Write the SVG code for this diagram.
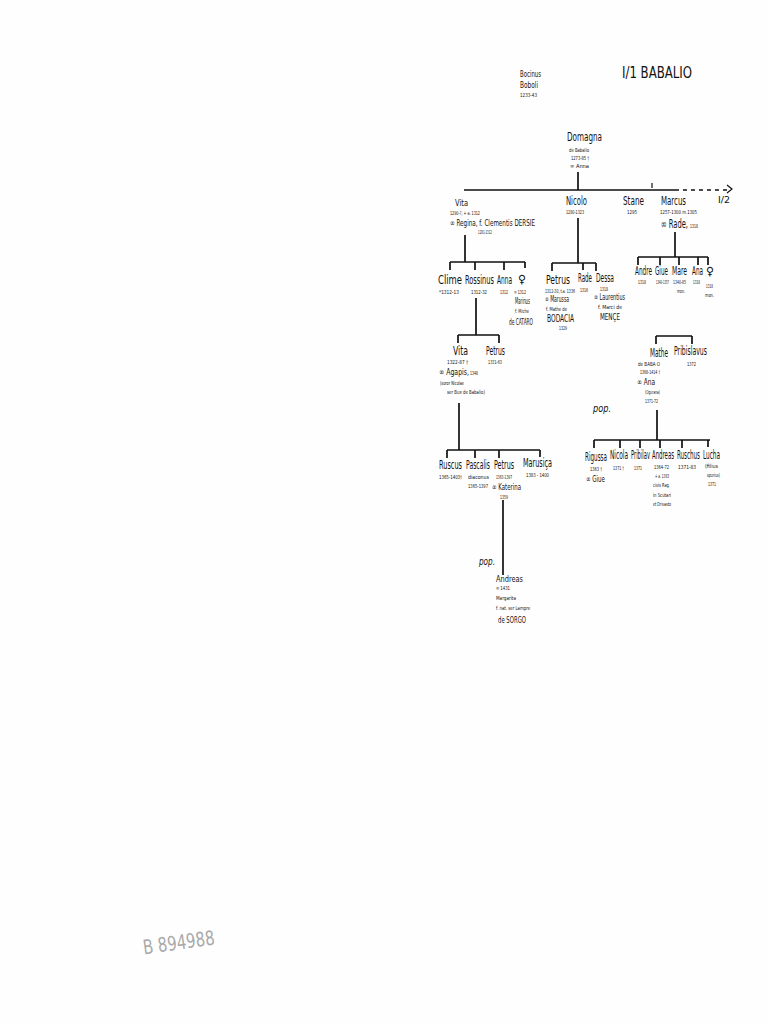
<svg xmlns="http://www.w3.org/2000/svg" width="768" height="1024" viewBox="0 0 768 1024">
<style>
text{font-family:"DejaVu Sans Condensed","Liberation Sans",sans-serif;fill:#111}
.n{font-size:11.5px}
.d{font-size:5.5px}
.s{font-size:9px}
.b{font-size:10px}
.t{font-size:16px}
.p{font-size:10px;font-style:italic}
.ln{stroke:#111;stroke-width:1.7;fill:none}
.tk{stroke:#111;stroke-width:1.2;fill:none}
</style>
<rect width="768" height="1024" fill="#fefefe"/>
<g id="connectors">
<path class="ln" d="M578 172V190M464 190H675"/>
<path class="ln" d="M675 190H728" stroke-dasharray="4 4"/>
<path class="tk" d="M727 185L732 189L727 193M652 183V188"/>
<path class="ln" d="M465 235V262M450 262H525M450 262V270M475 262V270M504 262V270M525 262V268"/>
<path class="ln" d="M578 218V263M552 263H596M552 263V271M583 263V270M596 263V271"/>
<path class="ln" d="M675 232V257M638 257H708M638 257V265M660 257V265M679 257V265M698 257V265M708 257V265"/>
<path class="ln" d="M476 298V335M458 335H499M458 335V343M499 335V343"/>
<path class="ln" d="M459 403V450M447 450H540M447 450V458M475 450V458M499 450V458M540 450V457"/>
<path class="ln" d="M503 500V575"/>
<path class="ln" d="M656 336H692M656 336V344M692 336V344"/>
<path class="ln" d="M657 410V440M594 440H710M594 440V448M620 440V448M640 440V448M660 440V448M682 440V448M708 440V447"/>
</g>
<g id="title"><text class="t" x="622" y="78" textLength="70" lengthAdjust="spacingAndGlyphs">I/1 BABALIO</text></g>
<g id="bocinus"><text class="s" x="520" y="77" textLength="21" lengthAdjust="spacingAndGlyphs">Bocinus</text><text class="s" x="520" y="88" textLength="18" lengthAdjust="spacingAndGlyphs">Boboli</text><text class="d" x="520" y="97" textLength="17" lengthAdjust="spacingAndGlyphs">1233-43</text></g>
<g id="domagna"><text class="n" x="567" y="141" textLength="35" lengthAdjust="spacingAndGlyphs">Domagna</text><text class="d" x="569" y="152" textLength="20" lengthAdjust="spacingAndGlyphs">de Babalio</text><text class="d" x="571" y="160" textLength="18" lengthAdjust="spacingAndGlyphs">1273-85 †</text><text class="d" x="570" y="168" textLength="19" lengthAdjust="spacingAndGlyphs">∞ Anna</text></g>
<g id="i2"><text class="s" x="718" y="203" textLength="12" lengthAdjust="spacingAndGlyphs">I/2</text></g>
<g id="vita1"><text class="s" x="455" y="206" textLength="13" lengthAdjust="spacingAndGlyphs">Vita</text><text class="d" x="450" y="215" textLength="30" lengthAdjust="spacingAndGlyphs">1290-?, + a. 1312</text><text class="s" x="450" y="226" textLength="85" lengthAdjust="spacingAndGlyphs">∞ Regina, f. Clementis DERSIE</text><text class="d" x="478" y="234" textLength="14" lengthAdjust="spacingAndGlyphs">1281-1312</text></g>
<g id="nicolo"><text class="n" x="566" y="205" textLength="21" lengthAdjust="spacingAndGlyphs">Nicolo</text><text class="d" x="566" y="214" textLength="18" lengthAdjust="spacingAndGlyphs">1280-1323</text></g>
<g id="stane"><text class="n" x="623" y="205" textLength="21" lengthAdjust="spacingAndGlyphs">Stane</text><text class="d" x="627" y="214" textLength="10" lengthAdjust="spacingAndGlyphs">1295</text></g>
<g id="marcus"><text class="n" x="661" y="205" textLength="25" lengthAdjust="spacingAndGlyphs">Marcus</text><text class="d" x="660" y="214" textLength="37" lengthAdjust="spacingAndGlyphs">1257-1300 m.1305</text><text class="n" x="661" y="228" textLength="27" lengthAdjust="spacingAndGlyphs">∞ Rade,</text><text class="d" x="690" y="228" textLength="8" lengthAdjust="spacingAndGlyphs">1318</text></g>
<g id="clime"><text class="n" x="438" y="284" textLength="24" lengthAdjust="spacingAndGlyphs">Clime</text><text class="d" x="439" y="294" textLength="20" lengthAdjust="spacingAndGlyphs">*1312-13</text></g>
<g id="rossinus"><text class="n" x="465" y="284" textLength="29" lengthAdjust="spacingAndGlyphs">Rossinus</text><text class="d" x="471" y="294" textLength="16" lengthAdjust="spacingAndGlyphs">1312-32</text></g>
<g id="anna"><text class="n" x="497" y="284" textLength="15" lengthAdjust="spacingAndGlyphs">Anna</text><text class="d" x="500" y="294" textLength="8" lengthAdjust="spacingAndGlyphs">1312</text></g>
<g id="f1"><text class="n" x="518" y="283" textLength="8" lengthAdjust="spacingAndGlyphs">♀</text><text class="d" x="514" y="294" textLength="12" lengthAdjust="spacingAndGlyphs">∞ 1312</text><text class="s" x="515" y="304" textLength="15" lengthAdjust="spacingAndGlyphs">Marinus</text><text class="d" x="515" y="313" textLength="14" lengthAdjust="spacingAndGlyphs">f. Miche</text><text class="s" x="509" y="325" textLength="24" lengthAdjust="spacingAndGlyphs">de CATARO</text></g>
<g id="petrus1"><text class="n" x="546" y="284" textLength="24" lengthAdjust="spacingAndGlyphs">Petrus</text><text class="d" x="545" y="293" textLength="30" lengthAdjust="spacingAndGlyphs">1312-30, t.a. 1336</text><text class="s" x="545" y="302" textLength="24" lengthAdjust="spacingAndGlyphs">∞ Marussa</text><text class="d" x="546" y="311" textLength="21" lengthAdjust="spacingAndGlyphs">f. Mathe de</text><text class="b" x="547" y="322" textLength="27" lengthAdjust="spacingAndGlyphs">BODACIA</text><text class="d" x="559" y="330" textLength="8" lengthAdjust="spacingAndGlyphs">1329</text></g>
<g id="rade"><text class="n" x="578" y="282" textLength="14" lengthAdjust="spacingAndGlyphs">Rade</text><text class="d" x="580" y="292" textLength="8" lengthAdjust="spacingAndGlyphs">1316</text></g>
<g id="dessa"><text class="n" x="596" y="282" textLength="18" lengthAdjust="spacingAndGlyphs">Dessa</text><text class="d" x="600" y="291" textLength="8" lengthAdjust="spacingAndGlyphs">1318</text><text class="s" x="594" y="300" textLength="31" lengthAdjust="spacingAndGlyphs">∞ Laurentius</text><text class="d" x="598" y="309" textLength="24" lengthAdjust="spacingAndGlyphs">f. Marci de</text><text class="s" x="600" y="320" textLength="20" lengthAdjust="spacingAndGlyphs">MENÇE</text></g>
<g id="andre"><text class="n" x="635" y="275" textLength="17" lengthAdjust="spacingAndGlyphs">Andre</text><text class="d" x="638" y="284" textLength="8" lengthAdjust="spacingAndGlyphs">1318</text></g>
<g id="giue1"><text class="n" x="655" y="275" textLength="13" lengthAdjust="spacingAndGlyphs">Giue</text><text class="d" x="656" y="284" textLength="13" lengthAdjust="spacingAndGlyphs">1340-1357</text></g>
<g id="mare"><text class="n" x="672" y="275" textLength="15" lengthAdjust="spacingAndGlyphs">Mare</text><text class="d" x="673" y="284" textLength="13" lengthAdjust="spacingAndGlyphs">1340-85</text><text class="d" x="677" y="293" textLength="8" lengthAdjust="spacingAndGlyphs">mon.</text></g>
<g id="ana1"><text class="n" x="692" y="275" textLength="11" lengthAdjust="spacingAndGlyphs">Ana</text><text class="d" x="693" y="284" textLength="7" lengthAdjust="spacingAndGlyphs">1318</text></g>
<g id="f2"><text class="n" x="706" y="275" textLength="8" lengthAdjust="spacingAndGlyphs">♀</text><text class="d" x="706" y="288" textLength="7" lengthAdjust="spacingAndGlyphs">1318</text><text class="d" x="705" y="297" textLength="9" lengthAdjust="spacingAndGlyphs">mon.</text></g>
<g id="vita2"><text class="n" x="453" y="355" textLength="15" lengthAdjust="spacingAndGlyphs">Vita</text><text class="d" x="447" y="364" textLength="21" lengthAdjust="spacingAndGlyphs">1322-87 †</text><text class="s" x="439" y="375" textLength="30" lengthAdjust="spacingAndGlyphs">∞ Agapis,</text><text class="d" x="470" y="375" textLength="8" lengthAdjust="spacingAndGlyphs">1348</text><text class="d" x="440" y="385" textLength="24" lengthAdjust="spacingAndGlyphs">(soror Nicolae</text><text class="d" x="447" y="394" textLength="38" lengthAdjust="spacingAndGlyphs">ser Bux de Babalio)</text></g>
<g id="petrus2"><text class="n" x="486" y="355" textLength="19" lengthAdjust="spacingAndGlyphs">Petrus</text><text class="d" x="488" y="364" textLength="14" lengthAdjust="spacingAndGlyphs">1331-63</text></g>
<g id="mathe"><text class="n" x="650" y="357" textLength="18" lengthAdjust="spacingAndGlyphs">Mathe</text><text class="d" x="638" y="366" textLength="22" lengthAdjust="spacingAndGlyphs">de BABA O</text><text class="d" x="640" y="374" textLength="20" lengthAdjust="spacingAndGlyphs">1368-1414 †</text><text class="s" x="637" y="385" textLength="18" lengthAdjust="spacingAndGlyphs">∞ Ana</text><text class="d" x="645" y="394" textLength="15" lengthAdjust="spacingAndGlyphs">(Ogurana)</text><text class="d" x="645" y="403" textLength="13" lengthAdjust="spacingAndGlyphs">1371-72</text></g>
<g id="pribislavus"><text class="n" x="674" y="355" textLength="33" lengthAdjust="spacingAndGlyphs">Pribislavus</text><text class="d" x="687" y="366" textLength="9" lengthAdjust="spacingAndGlyphs">1372</text></g>
<g id="pop1"><text class="p" x="593" y="412" textLength="18" lengthAdjust="spacingAndGlyphs">pop.</text></g>
<g id="ruscus"><text class="n" x="439" y="469" textLength="23" lengthAdjust="spacingAndGlyphs">Ruscus</text><text class="d" x="439" y="479" textLength="23" lengthAdjust="spacingAndGlyphs">1365-1403†</text></g>
<g id="pascalis"><text class="n" x="466" y="469" textLength="24" lengthAdjust="spacingAndGlyphs">Pascalis</text><text class="d" x="468" y="479" textLength="21" lengthAdjust="spacingAndGlyphs">diaconus</text><text class="d" x="468" y="488" textLength="20" lengthAdjust="spacingAndGlyphs">1365-1397</text></g>
<g id="petrus3"><text class="n" x="494" y="469" textLength="20" lengthAdjust="spacingAndGlyphs">Petrus</text><text class="d" x="496" y="479" textLength="16" lengthAdjust="spacingAndGlyphs">1363-1397</text><text class="s" x="492" y="490" textLength="29" lengthAdjust="spacingAndGlyphs">∞ Katerina</text><text class="d" x="500" y="499" textLength="8" lengthAdjust="spacingAndGlyphs">1359</text></g>
<g id="marusica"><text class="n" x="523" y="467" textLength="29" lengthAdjust="spacingAndGlyphs">Marusiça</text><text class="d" x="526" y="477" textLength="23" lengthAdjust="spacingAndGlyphs">1383 - 1400</text></g>
<g id="pop2"><text class="p" x="479" y="565" textLength="16" lengthAdjust="spacingAndGlyphs">pop.</text></g>
<g id="andreas1"><text class="s" x="496" y="582" textLength="27" lengthAdjust="spacingAndGlyphs">Andreas</text><text class="d" x="496" y="590" textLength="14" lengthAdjust="spacingAndGlyphs">∞ 1431</text><text class="d" x="496" y="600" textLength="20" lengthAdjust="spacingAndGlyphs">Margarita</text><text class="d" x="496" y="610" textLength="34" lengthAdjust="spacingAndGlyphs">f. nat. ser Lampre</text><text class="s" x="498" y="623" textLength="28" lengthAdjust="spacingAndGlyphs">de SORGO</text></g>
<g id="rigussa"><text class="n" x="585" y="461" textLength="22" lengthAdjust="spacingAndGlyphs">Rigussa</text><text class="d" x="590" y="471" textLength="12" lengthAdjust="spacingAndGlyphs">1363 †</text><text class="s" x="586" y="482" textLength="19" lengthAdjust="spacingAndGlyphs">∞ Giue</text></g>
<g id="nicola"><text class="n" x="610" y="459" textLength="18" lengthAdjust="spacingAndGlyphs">Nicola</text><text class="d" x="613" y="470" textLength="11" lengthAdjust="spacingAndGlyphs">1371 †</text></g>
<g id="pribilav"><text class="n" x="631" y="459" textLength="19" lengthAdjust="spacingAndGlyphs">Pribilav</text><text class="d" x="634" y="470" textLength="8" lengthAdjust="spacingAndGlyphs">1371</text></g>
<g id="andreas2"><text class="n" x="652" y="459" textLength="22" lengthAdjust="spacingAndGlyphs">Andreas</text><text class="d" x="654" y="469" textLength="15" lengthAdjust="spacingAndGlyphs">1364-72</text><text class="d" x="655" y="478" textLength="14" lengthAdjust="spacingAndGlyphs">+ a. 1383</text><text class="d" x="653" y="487" textLength="17" lengthAdjust="spacingAndGlyphs">civis Rag.</text><text class="d" x="653" y="497" textLength="18" lengthAdjust="spacingAndGlyphs">in Scutari</text><text class="d" x="653" y="506" textLength="18" lengthAdjust="spacingAndGlyphs">et Drivasto</text></g>
<g id="ruschus"><text class="n" x="677" y="459" textLength="23" lengthAdjust="spacingAndGlyphs">Ruschus</text><text class="d" x="678" y="469" textLength="18" lengthAdjust="spacingAndGlyphs">1371-83</text></g>
<g id="lucha"><text class="n" x="703" y="459" textLength="17" lengthAdjust="spacingAndGlyphs">Lucha</text><text class="d" x="705" y="468" textLength="13" lengthAdjust="spacingAndGlyphs">(filius</text><text class="d" x="707" y="477" textLength="13" lengthAdjust="spacingAndGlyphs">spurius)</text><text class="d" x="708" y="486" textLength="8" lengthAdjust="spacingAndGlyphs">1371</text></g>
<g id="stamp"><text x="143" y="950" font-size="20" style="fill:#aaa" textLength="72" lengthAdjust="spacingAndGlyphs" transform="rotate(-8 175 945)">B 894988</text></g>
</svg>
